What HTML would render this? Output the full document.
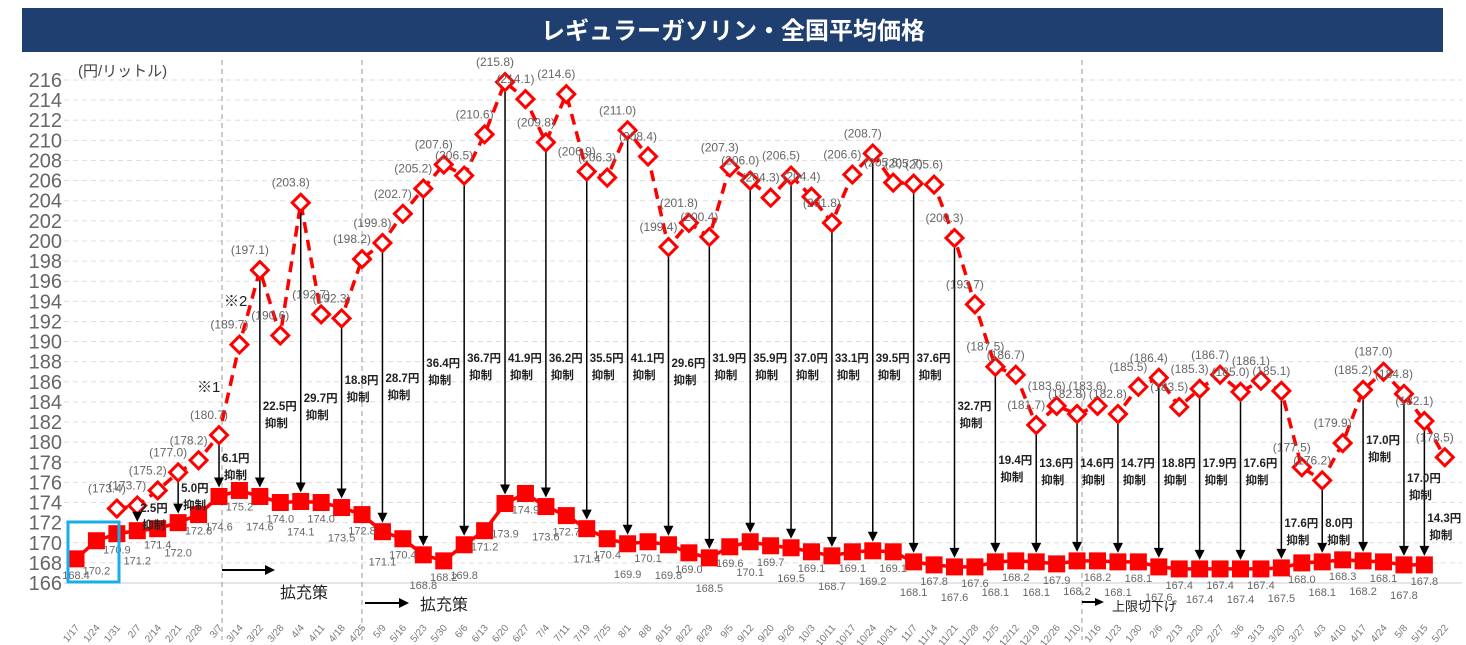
<!DOCTYPE html>
<html><head><meta charset="utf-8">
<style>
body{margin:0;background:#fff;}
svg{display:block;font-family:"Liberation Sans","Noto Sans CJK JP",sans-serif;}
</style></head>
<body>
<svg id="c" width="1466" height="645" viewBox="0 0 1466 645" xmlns="http://www.w3.org/2000/svg">
<rect x="22" y="8" width="1421" height="44" fill="#1f3f70"/>
<text x="733" y="39" text-anchor="middle" fill="#fff" font-size="24" font-weight="bold">レギュラーガソリン・全国平均価格</text>
<text x="78" y="76" fill="#444" font-size="15">(円/リットル)</text>
<g id="grid"></g>
<g id="ylabels"></g>
<g id="xlabels"></g>
<line x1="222" y1="60" x2="222" y2="640" stroke="#999" stroke-dasharray="5,4"/>
<line x1="362" y1="60" x2="362" y2="640" stroke="#999" stroke-dasharray="5,4"/>
<line x1="1082" y1="60" x2="1082" y2="640" stroke="#999" stroke-dasharray="5,4"/>
<g id="series"></g>
<g id="arrows"></g>
<g id="labels"></g>
<rect x="68" y="522" width="51" height="60" fill="none" stroke="#1aaee8" stroke-width="3"/>
<text x="197" y="392" font-size="15" fill="#222">※1</text>
<text x="224" y="306" font-size="15" fill="#222">※2</text>
<line x1="222" y1="570" x2="268" y2="570" stroke="#000" stroke-width="2"/>
<polygon points="275,570 265,565 265,575" fill="#000"/>
<text x="280" y="598" font-size="16" fill="#222">拡充策</text>
<line x1="365" y1="603" x2="402" y2="603" stroke="#000" stroke-width="2"/>
<polygon points="409,603 399,598 399,608" fill="#000"/>
<text x="420" y="610" font-size="16" fill="#222">拡充策</text>
<line x1="1082" y1="602" x2="1098" y2="602" stroke="#000" stroke-width="2"/>
<polygon points="1104,602 1095,598 1095,606" fill="#000"/>
<text x="1112" y="611" font-size="13" fill="#222">上限切下げ</text>
</svg>
<script>
const dates=["1/17","1/24","1/31","2/7","2/14","2/21","2/28","3/7","3/14","3/22","3/28","4/4","4/11","4/18","4/25","5/9","5/16","5/23","5/30","6/6","6/13","6/20","6/27","7/4","7/11","7/19","7/25","8/1","8/8","8/15","8/22","8/29","9/5","9/12","9/20","9/26","10/3","10/11","10/17","10/24","10/31","11/7","11/14","11/21","11/28","12/5","12/12","12/19","12/26","1/10","1/16","1/23","1/30","2/6","2/13","2/20","2/27","3/6","3/13","3/20","3/27","4/3","4/10","4/17","4/24","5/8","5/15","5/22"];
const actual=[168.4,170.2,170.9,171.2,171.4,172.0,172.8,174.6,175.2,174.6,174.0,174.1,174.0,173.5,172.8,171.1,170.4,168.8,168.2,169.8,171.2,173.9,174.9,173.6,172.7,171.4,170.4,169.9,170.1,169.8,169.0,168.5,169.6,170.1,169.7,169.5,169.1,168.7,169.1,169.2,169.1,168.1,167.8,167.6,167.6,168.1,168.2,168.1,167.9,168.2,168.2,168.1,168.1,167.6,167.4,167.4,167.4,167.4,167.4,167.5,168.0,168.1,168.3,168.2,168.1,167.8,167.8];
const noSubsidy=[null,null,173.4,173.7,175.2,177.0,178.2,180.7,189.7,197.1,190.6,203.8,192.7,192.3,198.2,199.8,202.7,205.2,207.6,206.5,210.6,215.8,214.1,209.8,214.6,206.9,206.3,211.0,208.4,199.4,201.8,200.4,207.3,206.0,204.3,206.5,204.4,201.8,206.6,208.7,205.8,205.7,205.6,200.3,193.7,187.5,186.7,181.7,183.6,182.8,183.6,182.8,185.5,186.4,183.5,185.3,186.7,185.0,186.1,185.1,177.5,176.2,179.9,185.2,187.0,184.8,182.1,178.5];
const arrowIdx=[3,5,7,9,11,13,15,17,19,21,23,25,27,29,31,33,35,37,39,41,43,45,47,49,51,53,55,57,59,61,63,65,66];
const suppress=[2.5,5.0,6.1,22.5,29.7,18.8,28.7,36.4,36.7,41.9,36.2,35.5,41.1,29.6,31.9,35.9,37.0,33.1,39.5,37.6,32.7,19.4,13.6,14.6,14.7,18.8,17.9,17.6,17.6,8.0,17.0,17.0,14.3];
const yTicks=[166,168,170,172,174,176,178,180,182,184,186,188,190,192,194,196,198,200,202,204,206,208,210,212,214,216];

const labelTop=[500,480,450,398,390,372,370,355,350,350,350,350,350,355,350,350,350,350,350,350,398,452,455,455,455,455,455,455,515,515,432,470,510];
const NS="http://www.w3.org/2000/svg";
const X=i=>76+i*20.43;
const Y=v=>583-(v-166)*10.06;
function mk(tag,attrs,parent,txt){const e=document.createElementNS(NS,tag);for(const k in attrs)e.setAttribute(k,attrs[k]);if(txt!==undefined)e.textContent=txt;document.getElementById(parent).appendChild(e);return e;}

yTicks.forEach(t=>{
  const g=mk('line',{x1:64,x2:1462,y1:Y(t),y2:Y(t),stroke:t===166?'#ccc':'#ddd','stroke-dasharray':t===166?'':'5,4'},'grid');
  
  
  const l=mk('text',{x:62,y:Y(t)+7,'text-anchor':'end','font-size':20,fill:'#666'},'ylabels',t);
  
  
});
dates.forEach((d,i)=>{
  const t=mk('text',{x:X(i)+4,y:628,'text-anchor':'end','font-size':10,fill:'#777',transform:`rotate(-50 ${X(i)+4} 628)`},'xlabels',d);
  
  
});
let pts=[];noSubsidy.forEach((v,i)=>{if(v!==null)pts.push(X(i)+','+Y(v));});
const dl=mk('polyline',{points:pts.join(' '),fill:'none',stroke:'#f00','stroke-width':3.5,'stroke-dasharray':'11,7'},'series');


const al=mk('polyline',{points:actual.map((v,i)=>X(i)+','+Y(v)).join(' '),fill:'none',stroke:'#f00','stroke-width':3.5},'series');


actual.forEach((v,i)=>{
  const s=mk('rect',{x:X(i)-8.5,y:Y(v)-8.5,width:17,height:17,fill:'#f00'},'series');
  
  
  const t=mk('text',{x:X(i),y:Y(v)+(i%2?34:20),'text-anchor':'middle','font-size':11,fill:'#666'},'labels',v.toFixed(1));
  
  
});
noSubsidy.forEach((v,i)=>{
  if(v===null)return;
  const d=mk('rect',{x:X(i)-6,y:Y(v)-6,width:12,height:12,fill:'#fff',stroke:'#f00','stroke-width':3,transform:`rotate(45 ${X(i)} ${Y(v)})`},'series');
  
  
  const t=mk('text',{x:X(i)-10,y:Y(v)-16,'text-anchor':'middle','font-size':12,fill:'#666'},'labels','('+v.toFixed(1)+')');
  
  
});
arrowIdx.forEach((idx,k)=>{
  const x=X(idx);
  const y1=Y(noSubsidy[idx])+10, y2=Y(actual[idx])-9;
  const ln=mk('line',{x1:x,x2:x,y1:y1,y2:y2-8,stroke:'#000','stroke-width':1.5},'arrows');
  
  
  const hd=mk('polygon',{points:`${x},${y2} ${x-5},${y2-10} ${x+5},${y2-10}`,fill:'#000'},'arrows');
  
  
  const ty=labelTop[k];
  const t1=mk('text',{x:x+3,y:ty+12,'font-size':11.5,'font-weight':'bold',fill:'#222'},'labels',suppress[k].toFixed(1)+'円');
  
  
  const t2=mk('text',{x:x+5,y:ty+29,'font-size':11.5,'font-weight':'bold',fill:'#222'},'labels','抑制');
  
  
});
</script>
</body></html>
